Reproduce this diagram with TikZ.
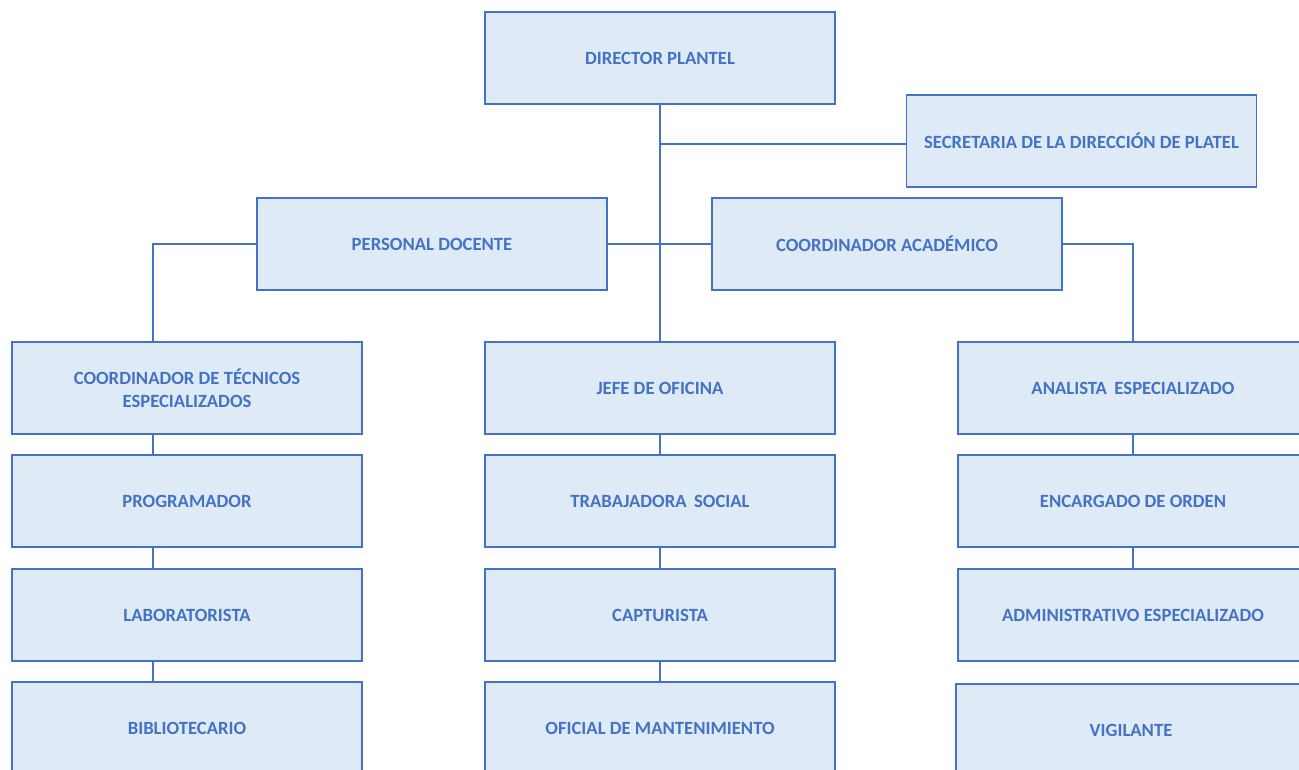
\documentclass[tikz,border=0pt]{standalone}
\usepackage{fontspec}
\setmainfont{Carlito}
\definecolor{boxfill}{HTML}{DEEAF6}
\definecolor{boxline}{HTML}{4472C4}
\begin{document}
\begin{tikzpicture}[x=0.75pt,y=-0.75pt,
  post/.style={draw=boxline,fill=boxfill,line width=1.3pt,
    minimum width=262.5pt,minimum height=69pt,inner sep=0pt,
    align=center,text=boxline,font=\fontsize{14}{17}\selectfont\bfseries},
  link/.style={draw=boxline,line width=1.8pt}]
\useasboundingbox (0,0) rectangle (1299,769);
\clip (0,0) rectangle (1299,769);

% top level
\node[post] (dir) at (660,58) {DIRECTOR PLANTEL};
\node[post] (sec) at (1081.5,141) {SECRETARIA DE LA DIRECCIÓN DE PLATEL};
\node[post] (pd)  at (432,244) {PERSONAL DOCENTE};
\node[post] (ca)  at (887,244) {COORDINADOR ACADÉMICO};

% left column
\node[post] (ct)  at (187,388) {COORDINADOR DE TÉCNICOS\\ESPECIALIZADOS};
\node[post] (pr)  at (187,501) {PROGRAMADOR};
\node[post] (lab) at (187,615) {LABORATORISTA};
\node[post] (bib) at (187,728) {BIBLIOTECARIO};

% middle column
\node[post] (jo)  at (660,388) {JEFE DE OFICINA};
\node[post] (ts)  at (660,501) {TRABAJADORA\hspace{0.4em}SOCIAL};
\node[post] (cap) at (660,615) {CAPTURISTA};
\node[post] (om)  at (660,728) {OFICIAL DE MANTENIMIENTO};

% right column
\node[post] (an)  at (1133,388) {ANALISTA\hspace{0.4em}ESPECIALIZADO};
\node[post] (eo)  at (1133,501) {ENCARGADO DE ORDEN};
\node[post] (ae)  at (1133,615) {ADMINISTRATIVO ESPECIALIZADO};
\node[post] (vig) at (1131,730) {VIGILANTE};

% trunk and branches
\coordinate (tap) at (660,144);
\coordinate (lx) at (153,0);
\draw[link] (dir.south) -- (jo.north);
\draw[link] (tap) -- (tap -| sec.west);
\draw[link] (pd.east) -- (ca.west);
\draw[link] (pd.west) -| (lx |- ct.north);
\draw[link] (ca.east) -| (an.north);

% chains inside columns
\draw[link] (lx |- ct.south) -- (lx |- pr.north);
\draw[link] (lx |- pr.south) -- (lx |- lab.north);
\draw[link] (lx |- lab.south) -- (lx |- bib.north);
\draw[link] (jo) -- (ts);
\draw[link] (ts) -- (cap);
\draw[link] (cap) -- (om);
\draw[link] (an) -- (eo);
\draw[link] (eo) -- (ae);
\end{tikzpicture}
\end{document}
